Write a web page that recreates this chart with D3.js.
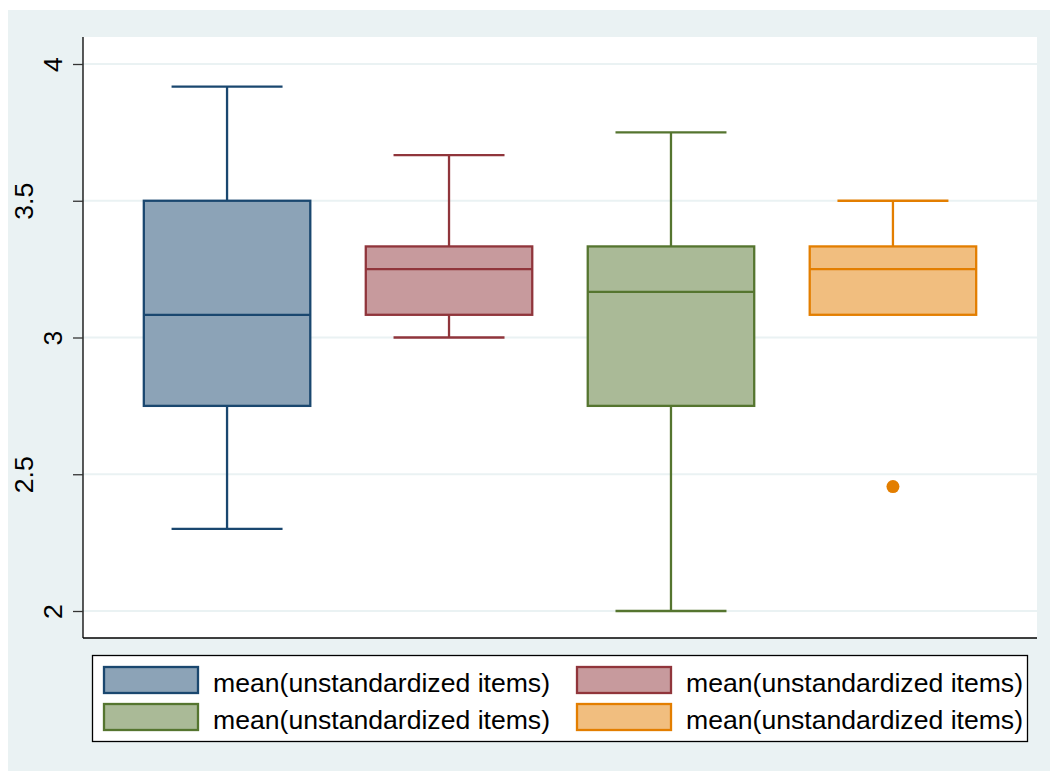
<!DOCTYPE html>
<html>
<head>
<meta charset="utf-8">
<script src="https://cdn.jsdelivr.net/npm/d3@7"></script>
<style>
  body { margin: 0; background: #ffffff; }
  svg { display: block; font-family: "Liberation Sans", Arial, sans-serif; }
</style>
</head>
<body>
<div id="chart"></div>
<script>
// box plot data, one entry per variable
const groups = ["v1", "v2", "v3", "v4"];
const seriesLabels = [
  "mean(unstandardized items)",
  "mean(unstandardized items)",
  "mean(unstandardized items)",
  "mean(unstandardized items)"
];
const lowerWhisker = [2.3, 3.0, 2.0, 3.083];
const q1 = [2.75, 3.083, 2.75, 3.083];
const median = [3.083, 3.25, 3.167, 3.25];
const q3 = [3.5, 3.333, 3.333, 3.333];
const upperWhisker = [3.917, 3.667, 3.75, 3.5];
const outliers = [[], [], [], [2.455]];
const yTicks = [2, 2.5, 3, 3.5, 4];

const strokes = ["#1a476f", "#90353b", "#55752f", "#e37e00"];
const fills = ["#8ca3b7", "#c79a9d", "#aaba97", "#f1be7f"];

const width = 1050, height = 771;
const plot = { left: 83, right: 1037, top: 37, bottom: 638 };
const fontSize = 26.6;

const svg = d3.select("#chart").append("svg")
  .attr("width", width)
  .attr("height", height);

// outer background
svg.append("rect")
  .attr("x", 8).attr("y", 10)
  .attr("width", width - 8).attr("height", height - 10)
  .attr("fill", "#eaf2f3");

// plot region
svg.append("rect")
  .attr("x", plot.left).attr("y", plot.top)
  .attr("width", plot.right - plot.left).attr("height", plot.bottom - plot.top)
  .attr("fill", "#ffffff");

const y = d3.scaleLinear().domain([2, 4]).range([611, 64]);
const x = d3.scaleBand()
  .domain(groups)
  .range([plot.left, plot.right])
  .paddingInner(0.25)
  .paddingOuter(0.274);

// gridlines
svg.append("g").selectAll("line")
  .data(yTicks)
  .enter().append("line")
  .attr("x1", plot.left).attr("x2", plot.right)
  .attr("y1", d => y(d)).attr("y2", d => y(d))
  .attr("stroke", "#eaf2f3")
  .attr("stroke-width", 2);

// y axis
const yAxis = svg.append("g")
  .attr("transform", "translate(" + plot.left + ",0)")
  .call(d3.axisLeft(y).tickValues(yTicks).tickSize(10).tickFormat(d3.format("")));
yAxis.select(".domain")
  .attr("d", "M0," + plot.top + "V" + plot.bottom)
  .attr("stroke", "#000").attr("stroke-width", 1.3);
yAxis.selectAll(".tick line").attr("stroke", "#333").attr("stroke-width", 1.3);
yAxis.selectAll(".tick text")
  .attr("font-size", fontSize)
  .attr("fill", "#000")
  .attr("text-anchor", "middle")
  .attr("dy", 0)
  .attr("x", 0)
  .attr("transform", function (d) {
    const off = String(d).length > 1 ? -50 : -21;
    return "translate(" + off + ",0) rotate(-90)";
  });

// bottom line
svg.append("line")
  .attr("x1", plot.left).attr("x2", plot.right)
  .attr("y1", plot.bottom).attr("y2", plot.bottom)
  .attr("stroke", "#000").attr("stroke-width", 1.3);

// boxes
const boxes = svg.append("g").selectAll("g")
  .data(groups)
  .enter().append("g");

const bw = x.bandwidth();
const cx = g => x(g) + bw / 2;
const lw = 2.3;

boxes.each(function (g, i) {
  const sel = d3.select(this);
  const c = cx(g);
  const capHalf = bw / 3;
  // whiskers
  sel.append("line")
    .attr("x1", c).attr("x2", c)
    .attr("y1", y(q3[i])).attr("y2", y(upperWhisker[i]))
    .attr("stroke", strokes[i]).attr("stroke-width", lw);
  sel.append("line")
    .attr("x1", c).attr("x2", c)
    .attr("y1", y(q1[i])).attr("y2", y(lowerWhisker[i]))
    .attr("stroke", strokes[i]).attr("stroke-width", lw);
  sel.append("line")
    .attr("x1", c - capHalf).attr("x2", c + capHalf)
    .attr("y1", y(upperWhisker[i])).attr("y2", y(upperWhisker[i]))
    .attr("stroke", strokes[i]).attr("stroke-width", lw);
  if (lowerWhisker[i] < q1[i]) {
    sel.append("line")
      .attr("x1", c - capHalf).attr("x2", c + capHalf)
      .attr("y1", y(lowerWhisker[i])).attr("y2", y(lowerWhisker[i]))
      .attr("stroke", strokes[i]).attr("stroke-width", lw);
  }
  // box
  sel.append("rect")
    .attr("x", x(g)).attr("y", y(q3[i]))
    .attr("width", bw).attr("height", y(q1[i]) - y(q3[i]))
    .attr("fill", fills[i])
    .attr("stroke", strokes[i]).attr("stroke-width", lw);
  // median
  sel.append("line")
    .attr("x1", x(g)).attr("x2", x(g) + bw)
    .attr("y1", y(median[i])).attr("y2", y(median[i]))
    .attr("stroke", strokes[i]).attr("stroke-width", lw);
  // outliers
  sel.selectAll("circle")
    .data(outliers[i])
    .enter().append("circle")
    .attr("cx", c).attr("cy", d => y(d))
    .attr("r", 6.5)
    .attr("fill", strokes[i]);
});

// legend
const legend = svg.append("g");
legend.append("rect")
  .attr("x", 92.5).attr("y", 655.5)
  .attr("width", 935).attr("height", 86)
  .attr("fill", "#fff")
  .attr("stroke", "#000").attr("stroke-width", 1.3);

const colX = [104, 577];
const rowY = [667, 704];
const items = legend.selectAll("g.item")
  .data(seriesLabels)
  .enter().append("g")
  .attr("class", "item")
  .attr("transform", (d, i) => "translate(" + colX[i % 2] + "," + rowY[Math.floor(i / 2)] + ")");

items.append("rect")
  .attr("x", 0).attr("y", 0)
  .attr("width", 94).attr("height", 26)
  .attr("fill", (d, i) => fills[i])
  .attr("stroke", (d, i) => strokes[i])
  .attr("stroke-width", lw);

items.append("text")
  .attr("x", 109).attr("y", 24.5)
  .attr("font-size", fontSize)
  .attr("fill", "#000")
  .text(d => d);
</script>
</body>
</html>
